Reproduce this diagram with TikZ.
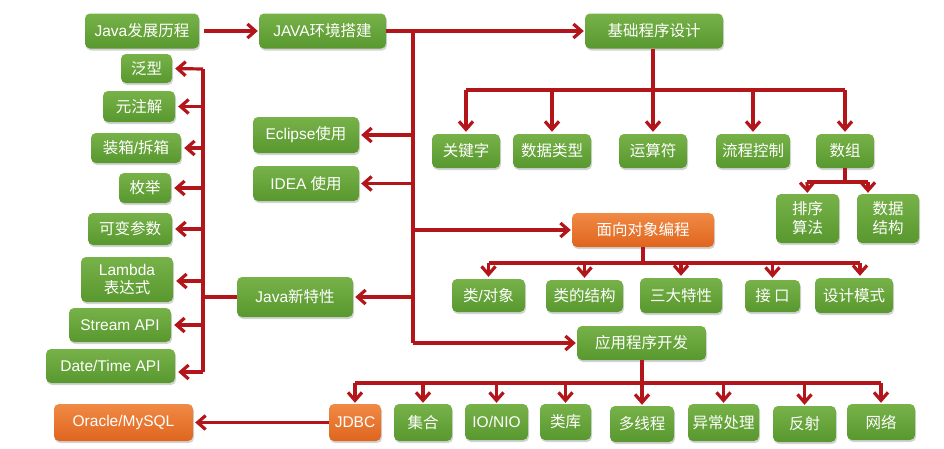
\documentclass[tikz,border=0pt]{standalone}
\usepackage{fontspec}
\setmainfont{Liberation Sans}
\newfontfamily\cjk{Noto Sans CJK SC}
\usetikzlibrary{arrows.meta,shadows}
\definecolor{lnred}{HTML}{B3161A}
\definecolor{gtop}{HTML}{77B249}
\definecolor{gbot}{HTML}{58982E}
\definecolor{otop}{HTML}{F08A45}
\definecolor{obot}{HTML}{DF651E}
\tikzset{
  box/.style={rounded corners=5pt, text=white, inner sep=1pt, align=center,
    font=\fontsize{15.5}{17}\selectfont,
    drop shadow={shadow xshift=1pt, shadow yshift=-2pt, opacity=0.35}},
  gbox/.style={box, top color=gtop, bottom color=gbot},
  obox/.style={box, top color=otop, bottom color=obot},
  ln/.style={draw=lnred, line width=3.2pt},
  arr/.style={ln, -{Straight Barb[length=8pt,width=14pt]}},
}
\begin{document}
\begin{tikzpicture}[x=1pt,y=-1pt]
\useasboundingbox (0,0) rectangle (944,448);
% top row
\node[gbox, minimum width=114, minimum height=35] (n1) at (142,31) {Java{\cjk 发展历程}};
\node[gbox, minimum width=127, minimum height=35] (n2) at (322.5,31) {JAVA{\cjk 环境搭建}};
\node[gbox, minimum width=138, minimum height=35] (n3) at (654,31) {\cjk 基础程序设计};
% left features
\node[gbox, minimum width=51, minimum height=29] (f1) at (146.5,68.5) {\cjk 泛型};
\node[gbox, minimum width=72, minimum height=31] (f2) at (139,106.5) {\cjk 元注解};
\node[gbox, minimum width=90, minimum height=30] (f3) at (136,148) {{\cjk 装箱}/{\cjk 拆箱}};
\node[gbox, minimum width=52, minimum height=30] (f4) at (145,188) {\cjk 枚举};
\node[gbox, minimum width=84, minimum height=32] (f5) at (130,229) {\cjk 可变参数};
\node[gbox, minimum width=92, minimum height=45, font=\fontsize{15.5}{18}\selectfont] (f6) at (127,279.5) {Lambda\\{\cjk 表达式}};
\node[gbox, minimum width=102, minimum height=34] (f7) at (120,325) {Stream API};
\node[gbox, minimum width=129, minimum height=34] (f8) at (110.5,366) {Date/Time API};
% middle column
\node[gbox, minimum width=106, minimum height=36] (ec) at (306,135) {Eclipse{\cjk 使用}};
\node[gbox, minimum width=106, minimum height=35] (id) at (306,183.5) {IDEA {\cjk 使用}};
\node[gbox, minimum width=116, minimum height=40] (nf) at (295,297) {Java{\cjk 新特性}};
% basics
\node[gbox, minimum width=68, minimum height=34] (b1) at (466,151) {\cjk 关键字};
\node[gbox, minimum width=78, minimum height=34] (b2) at (552,151) {\cjk 数据类型};
\node[gbox, minimum width=68, minimum height=34] (b3) at (653,151) {\cjk 运算符};
\node[gbox, minimum width=74, minimum height=34] (b4) at (753,151) {\cjk 流程控制};
\node[gbox, minimum width=58, minimum height=34] (b5) at (845,151) {\cjk 数组};
\node[gbox, minimum width=63, minimum height=49, font=\fontsize{15.5}{19}\selectfont] (a1) at (807.5,218.5) {\cjk 排序\\\cjk 算法};
\node[gbox, minimum width=62, minimum height=49, font=\fontsize{15.5}{19}\selectfont] (a2) at (888,218.5) {\cjk 数据\\\cjk 结构};
% OOP
\node[obox, minimum width=142, minimum height=34] (oo) at (643,230) {\cjk 面向对象编程};
\node[gbox, minimum width=73, minimum height=33] (o1) at (488.5,295.5) {{\cjk 类}/{\cjk 对象}};
\node[gbox, minimum width=77, minimum height=32] (o2) at (584.5,296) {\cjk 类的结构};
\node[gbox, minimum width=82, minimum height=35] (o3) at (681,295.5) {\cjk 三大特性};
\node[gbox, minimum width=55, minimum height=32] (o4) at (772.5,296) {\cjk 接\ 口};
\node[gbox, minimum width=78, minimum height=35] (o5) at (854,295.5) {\cjk 设计模式};
% application
\node[gbox, minimum width=129, minimum height=34] (ap) at (641.5,343) {\cjk 应用程序开发};
\node[obox, minimum width=139, minimum height=37] (db) at (123.5,422.5) {Oracle/MySQL};
\node[obox, minimum width=52, minimum height=37] (p1) at (355,422.5) {JDBC};
\node[gbox, minimum width=58, minimum height=37] (p2) at (423,422.5) {\cjk 集合};
\node[gbox, minimum width=63, minimum height=36] (p3) at (496.5,422) {IO/NIO};
\node[gbox, minimum width=51, minimum height=36] (p4) at (565.5,422) {\cjk 类库};
\node[gbox, minimum width=64, minimum height=36] (p5) at (642,424) {\cjk 多线程};
\node[gbox, minimum width=71, minimum height=37] (p6) at (723.5,422.5) {\cjk 异常处理};
\node[gbox, minimum width=63, minimum height=36] (p7) at (804.5,424) {\cjk 反射};
\node[gbox, minimum width=68, minimum height=36] (p8) at (881,422) {\cjk 网络};
% junction coordinates
\coordinate (tt) at (413,31);
\coordinate (tb) at (413,343);
\coordinate (br) at (203,297);
\coordinate (bt) at (203,69);
\coordinate (bb) at (203,372);
% connectors
\draw[arr, shorten <=5pt, shorten >=1pt] (n1.east) -- (n2.west);
\draw[arr, shorten >=1pt] (n2.east) -- (n3.west);
\draw[ln] (tt) -- (tb);
\draw[arr, shorten >=2pt] (tt |- ec.east) -- (ec.east);
\draw[arr, shorten >=2pt] (tt |- id.east) -- (id.east);
\draw[arr, shorten >=2pt] (tt |- nf.east) -- (nf.east);
\draw[arr, shorten >=1pt] (tt |- oo.west) -- (oo.west);
\draw[arr, shorten >=1pt] (tb) -- (ap.west);
% java new features bracket
\draw[ln] (nf.west) -- (br);
\draw[ln] (bt) -- (bb);
\draw[arr, shorten >=3pt] (bt) -- (f1.east);
\draw[arr, shorten >=3pt] (bt |- f2.east) -- (f2.east);
\draw[arr, shorten >=3pt] (bt |- f3.east) -- (f3.east);
\draw[arr, shorten >=3pt] (bt |- f4.east) -- (f4.east);
\draw[arr, shorten >=3pt] (bt |- f5.east) -- (f5.east);
\draw[arr, shorten >=3pt] (203,281) -- (f6.east |- 0,281);
\draw[arr, shorten >=3pt] (bt |- f7.east) -- (f7.east);
\draw[arr, shorten >=3pt] (bb) -- (f8.east |- bb);
% basics tree
\coordinate (bh) at (653,90);
\draw[ln] (n3.south -| bh) -- (bh);
\draw[ln] (b1.north |- bh) -- (b5.north |- bh);
\foreach \c in {b1,b2,b3,b4,b5} \draw[arr, shorten >=2pt] (\c.north |- bh) -- (\c.north);
\coordinate (ah) at (845,182);
\draw[ln] (b5.south) -- (ah);
\draw[ln] (807,182) -- (868,182);
\draw[arr, shorten >=1pt] (807,182) -- (a1.north);
\draw[arr, shorten >=1pt] (868,182) -- (a2.north -| 868,0);
% OOP tree
\coordinate (oh) at (643,263);
\draw[ln] (oo.south) -- (oh);
\draw[ln] (o1.north |- oh) -- (860,263);
\draw[arr, shorten >=2pt] (o1.north |- oh) -- (o1.north);
\draw[arr, shorten >=2pt] (o2.north |- oh) -- (o2.north);
\draw[arr, shorten >=2pt] (o3.north |- oh) -- (o3.north);
\draw[arr, shorten >=2pt] (o4.north |- oh) -- (o4.north);
\draw[arr, shorten >=2pt] (860,263) -- (o5.north -| 860,0);
% app tree
\coordinate (ph) at (642,383);
\draw[ln] (ap.south -| ph) -- (ph);
\draw[ln] (p1.north |- ph) -- (p8.north |- ph);
\draw[arr, shorten >=1pt] (p1.north |- ph) -- (p1.north);
\draw[arr, shorten >=1pt] (p2.north |- ph) -- (p2.north);
\draw[arr, shorten >=1pt] (p3.north |- ph) -- (p3.north);
\draw[arr, shorten >=1pt] (p4.north |- ph) -- (p4.north);
\draw[arr, shorten >=1pt] (p5.north |- ph) -- (p5.north);
\draw[arr, shorten >=1pt] (p6.north |- ph) -- (p6.north);
\draw[arr, shorten >=1pt] (p7.north |- ph) -- (p7.north);
\draw[arr, shorten >=1pt] (p8.north |- ph) -- (p8.north);
% JDBC to DB
\draw[arr, shorten >=2pt] (p1.west) -- (db.east);
\end{tikzpicture}
\end{document}
